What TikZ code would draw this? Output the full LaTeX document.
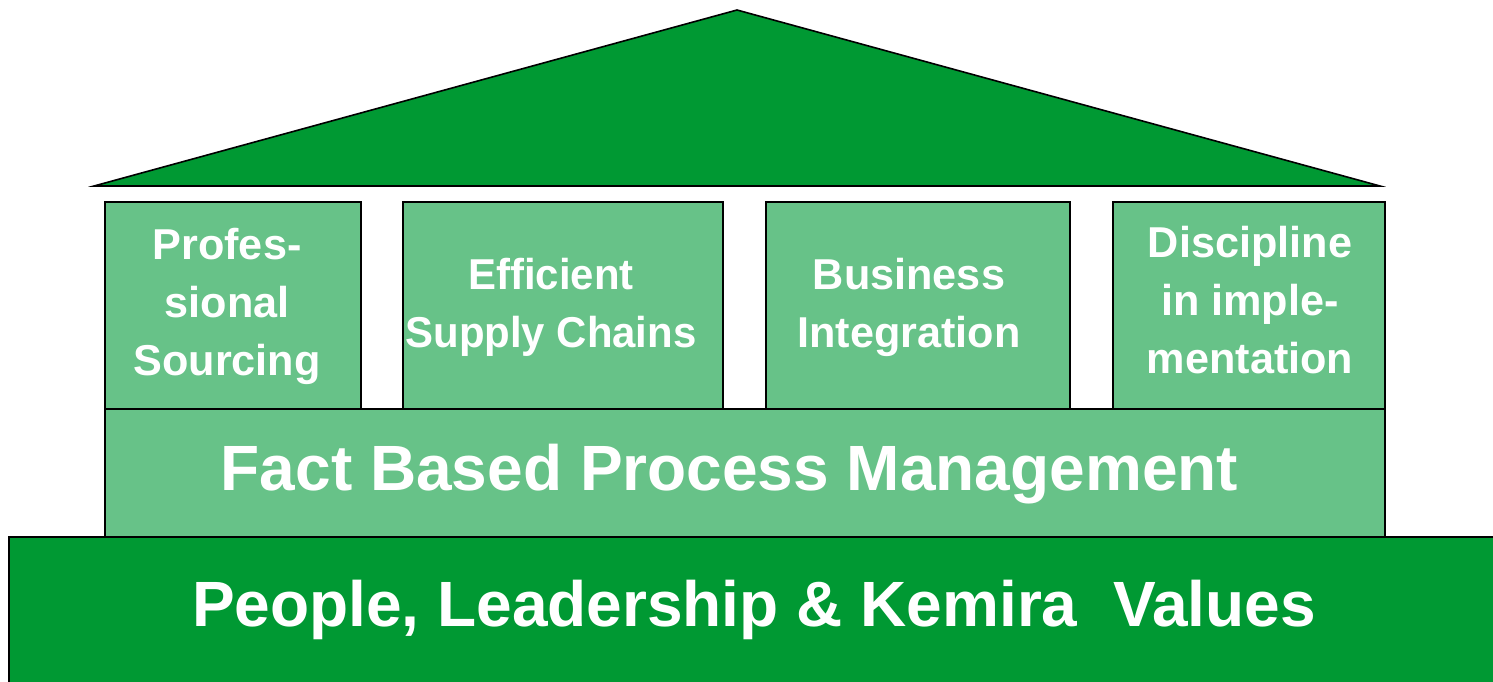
\documentclass[tikz,border=0pt]{standalone}
\usepackage{fontspec}
\setmainfont{Liberation Sans}
\usetikzlibrary{calc}

\definecolor{roofgreen}{RGB}{0,153,51}
\definecolor{pillargreen}{RGB}{103,194,136}

\begin{document}
\begin{tikzpicture}[x=0.5pt,y=-0.5pt,
  block/.style={draw=black,line width=0.8pt},
  pillartext/.style={text=white,align=center,font=\bfseries\fontsize{21.6}{29}\selectfont},
  bigtext/.style={text=white,font=\bfseries\fontsize{32}{38}\selectfont}]

\useasboundingbox (0,0) rectangle (1493,681);

% Define corners
\coordinate (apex) at (737,10);
\coordinate (eaveL) at (94,186);
\coordinate (eaveR) at (1380,186);

% Draw roof
\draw[block,fill=roofgreen,line join=miter] (eaveL) -- (apex) -- (eaveR) -- cycle;

% Pillars
\draw[block,fill=pillargreen] (105,202) rectangle (361,409);
\draw[block,fill=pillargreen] (403,202) rectangle (723,409);
\draw[block,fill=pillargreen] (766,202) rectangle (1070,409);
\draw[block,fill=pillargreen] (1113,202) rectangle (1385,409);

% Floor and base
\draw[block,fill=pillargreen] (105,409) rectangle (1385,537);
\draw[block,fill=roofgreen] (9,537) rectangle (1510,700);

% Pillar labels
\node[pillartext] (sourcing) at (227,306) {Profes-\\sional\\Sourcing};
\node[pillartext,xscale=0.97] (supply) at (551,307) {Efficient\\Supply Chains};
\node[pillartext] (business) at (909,307) {Business\\Integration};
\node[pillartext] (discipline) at (1250,300) {Discipline\\in imple-\\mentation};

% Floor and base labels
\node[bigtext] (fact) at (729.5,474) {Fact Based Process Management};
\node[bigtext] (people) at (754,610) {People, Leadership \& Kemira\ \ Values};

\end{tikzpicture}
\end{document}
